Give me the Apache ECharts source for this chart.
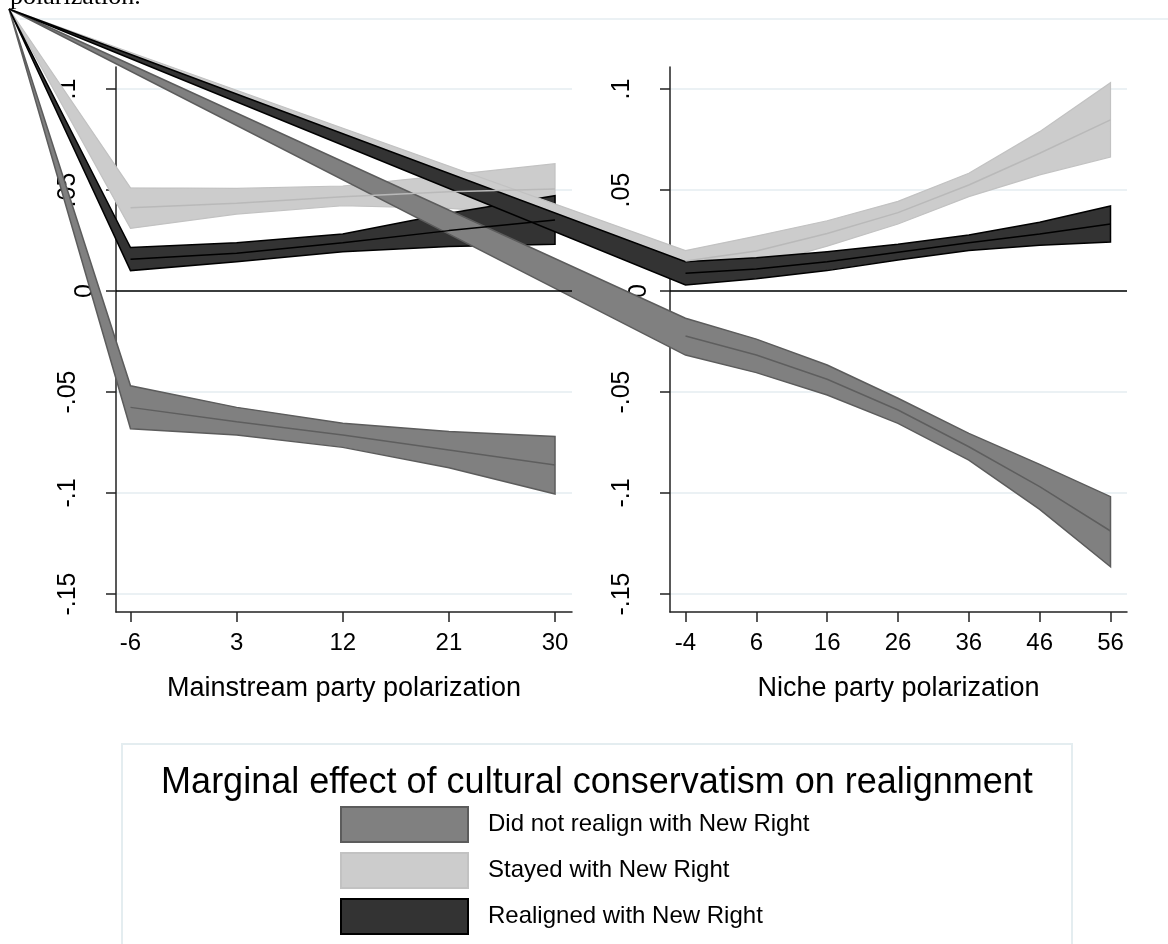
<!DOCTYPE html>
<html>
<head>
<meta charset="utf-8">
<script src="https://cdn.jsdelivr.net/npm/echarts@6/dist/echarts.min.js"></script>
<style>
  html, body { margin: 0; padding: 0; background: #fff; }
  #chart { width: 1168px; height: 944px; }
</style>
</head>
<body>
<div id="chart"></div>
<script>
// ---------------- data ----------------
const groupNames = ['Did not realign with New Right', 'Stayed with New Right', 'Realigned with New Right'];

// Left panel: Mainstream party polarization
const xMainstream = [-6, 3, 12, 21, 30];
const mainNotMid = [-0.0576, -0.0647, -0.0713, -0.0787, -0.0861];
const mainNotLo  = [-0.0682, -0.0713, -0.0774, -0.0875, -0.1005];
const mainNotHi  = [-0.0469, -0.0576, -0.0655, -0.0696, -0.0720];
const mainStayMid = [0.0412, 0.0434, 0.0467, 0.0492, 0.0505];
const mainStayLo  = [0.0310, 0.0381, 0.0422, 0.0409, 0.0376];
const mainStayHi  = [0.0511, 0.0508, 0.0520, 0.0574, 0.0630];
const mainReMid = [0.0157, 0.0187, 0.0239, 0.0299, 0.0351];
const mainReLo  = [0.0101, 0.0145, 0.0195, 0.0220, 0.0231];
const mainReHi  = [0.0215, 0.0239, 0.0282, 0.0385, 0.0472];

// Right panel: Niche party polarization
const xNiche = [-4, 6, 16, 26, 36, 46, 56];
const nicheNotMid = [-0.0223, -0.0317, -0.0437, -0.0589, -0.0771, -0.0968, -0.1188];
const nicheNotLo  = [-0.0317, -0.0404, -0.0515, -0.0655, -0.0837, -0.1081, -0.1365];
const nicheNotHi  = [-0.0135, -0.0238, -0.0366, -0.0531, -0.0705, -0.0858, -0.1018];
const nicheStayMid = [0.0149, 0.0198, 0.0285, 0.0388, 0.0525, 0.0682, 0.0847];
const nicheStayLo  = [0.0098, 0.0124, 0.0222, 0.0332, 0.0467, 0.0575, 0.0663];
const nicheStayHi  = [0.0200, 0.0272, 0.0348, 0.0444, 0.0583, 0.0789, 0.1031];
const nicheReMid = [0.0088, 0.0109, 0.0145, 0.0192, 0.0239, 0.0282, 0.0332];
const nicheReLo  = [0.0030, 0.0061, 0.0101, 0.0153, 0.0200, 0.0226, 0.0243];
const nicheReHi  = [0.0145, 0.0165, 0.0195, 0.0231, 0.0277, 0.0340, 0.0421];

// ticks
const xTicksMainstream = [-6, 3, 12, 21, 30];
const xTicksNiche = [-4, 6, 16, 26, 36, 46, 56];
const yTicks = [-0.15, -0.1, -0.05, 0, 0.05, 0.1];
const yTickLabels = ['-.15', '-.1', '-.05', '0', '.05', '.1'];
const xTitles = ['Mainstream party polarization', 'Niche party polarization'];
const legendTitle = 'Marginal effect of cultural conservatism on realignment';
const clippedNote = 'polarization.';

// ---------------- styles ----------------
const FONT = '"Liberation Sans", Arial, sans-serif';
const SERIF = '"Liberation Serif", "Times New Roman", serif';
const styles = [
  { fill: '#808080', stroke: '#5c5c5c', line: '#5e5e5e', lw: 1.5 },
  { fill: '#cccccc', stroke: '#c2c2c2', line: '#b9b9b9', lw: 1.2 },
  { fill: '#333333', stroke: '#000000', line: '#000000', lw: 1.5 }
];
const ARTIFACT_ORIGIN = [9, 9]; // all band outlines start from this page corner point
const AXIS_COLOR = '#222222';
const GRID_COLOR = '#e4edf0';

const panels = [
  { xs: xMainstream, ticks: xTicksMainstream, min: -7.23, max: 31.44,
    groups: [[mainNotLo, mainNotMid, mainNotHi], [mainStayLo, mainStayMid, mainStayHi], [mainReLo, mainReMid, mainReHi]] },
  { xs: xNiche, ticks: xTicksNiche, min: -6.19, max: 58.33,
    groups: [[nicheNotLo, nicheNotMid, nicheNotHi], [nicheStayLo, nicheStayMid, nicheStayHi], [nicheReLo, nicheReMid, nicheReHi]] }
];

function yLabel(v) {
  const i = yTicks.findIndex(t => Math.abs(t - v) < 1e-9);
  const s = i >= 0 ? yTickLabels[i] : '';
  return Math.abs(v) < 1e-9 ? '{z|' + s + '}' : '{n|' + s + '}';
}

const series = [];
panels.forEach((p, pi) => {
  p.groups.forEach((g, gi) => {
    const [lo, mid, hi] = g;
    const st = styles[gi];
    series.push({
      type: 'custom',
      name: groupNames[gi],
      xAxisIndex: pi, yAxisIndex: pi,
      clip: false,
      silent: true,
      z: 2,
      data: p.xs.map((x, i) => [x, lo[i], hi[i]]),
      renderItem: function (params, api) {
        if (params.dataIndex !== 0) return { type: 'group', children: [] };
        const up = p.xs.map((x, i) => api.coord([x, hi[i]]));
        const dn = p.xs.map((x, i) => api.coord([x, lo[i]])).reverse();
        return {
          type: 'polygon',
          shape: { points: [ARTIFACT_ORIGIN].concat(up, dn) },
          style: { fill: st.fill, stroke: st.stroke, lineWidth: st.lw, lineJoin: 'miter' }
        };
      }
    });
    const lineSeries = {
      type: 'line',
      name: 'mid-' + pi + '-' + gi,
      xAxisIndex: pi, yAxisIndex: pi,
      data: p.xs.map((x, i) => [x, mid[i]]),
      showSymbol: false,
      symbol: 'none',
      silent: true,
      z: 2,
      lineStyle: { color: st.line, width: 1.5 }
    };
    if (gi === 0) {
      lineSeries.markLine = {
        silent: true, symbol: 'none', label: { show: false },
        lineStyle: { color: '#000', width: 1.5, type: 'solid' },
        data: [{ yAxis: yTicks[yTickLabels.indexOf('0')] }]
      };
    }
    series.push(lineSeries);
  });
});

const option = {
  animation: false,
  backgroundColor: '#fff',
  grid: [
    { left: 116, top: 67, width: 456, height: 545, outerBoundsMode: 'none', containLabel: false },
    { left: 670, top: 67, width: 457, height: 545, outerBoundsMode: 'none', containLabel: false }
  ],
  xAxis: panels.map((p, pi) => ({
    gridIndex: pi, type: 'value', min: p.min, max: p.max,
    axisLine: { onZero: false, lineStyle: { color: AXIS_COLOR, width: 1.5 } },
    axisTick: { customValues: p.ticks, length: 10, lineStyle: { color: AXIS_COLOR, width: 1.5 } },
    axisLabel: { customValues: p.ticks, fontSize: 24, color: '#000', fontFamily: FONT, margin: 19 },
    splitLine: { show: false },
    name: xTitles[pi], nameLocation: 'middle', nameGap: 63,
    nameTextStyle: { fontSize: 27, color: '#000', fontFamily: FONT }
  })),
  yAxis: panels.map((p, pi) => ({
    gridIndex: pi, type: 'value', min: -0.1589, max: 0.1109,
    axisLine: { onZero: false, lineStyle: { color: AXIS_COLOR, width: 1.5 } },
    axisTick: { customValues: yTicks, length: 10, lineStyle: { color: AXIS_COLOR, width: 1.5 } },
    axisLabel: {
      customValues: yTicks, rotate: 90, margin: 18, formatter: yLabel,
      rich: {
        z: { fontSize: 25, color: '#000', fontFamily: FONT },
        n: { fontSize: 25, color: '#000', fontFamily: FONT, padding: [0, 0, 17, 0] }
      }
    },
    splitLine: { show: true, lineStyle: { color: GRID_COLOR, width: 1.5 } }
  })),
  legend: {
    orient: 'vertical', left: 340, top: 806, padding: 0,
    itemWidth: 127, itemHeight: 35, itemGap: 9, icon: 'rect',
    selectedMode: false,
    textStyle: { fontSize: 24, color: '#000', fontFamily: FONT, padding: [0, 0, 0, 15] },
    data: groupNames.map((n, i) => ({
      name: n,
      itemStyle: { color: styles[i].fill, borderColor: styles[i].stroke, borderWidth: 2 }
    }))
  },
  graphic: { elements: [
    { type: 'line', silent: true, z: 0, shape: { x1: 20, y1: 19, x2: 1168, y2: 19 },
      style: { stroke: GRID_COLOR, lineWidth: 1.5 } },
    { type: 'rect', silent: true, z: 0, shape: { x: 122, y: 744, width: 950, height: 260 },
      style: { fill: 'transparent', stroke: GRID_COLOR, lineWidth: 2 } },
    { type: 'text', silent: true, z: 1, x: 597, y: 783,
      style: { text: legendTitle, fill: '#000', fontSize: 36, fontFamily: FONT, align: 'center', verticalAlign: 'middle' } },
    { type: 'text', silent: true, z: 1, x: 10, y: -3,
      style: { text: clippedNote, fill: '#000', fontSize: 26, fontFamily: SERIF, align: 'left', verticalAlign: 'middle' } }
  ] },
  series: series
};

const chart = echarts.init(document.getElementById('chart'), null, { renderer: 'canvas' });
chart.setOption(option);
</script>
</body>
</html>
